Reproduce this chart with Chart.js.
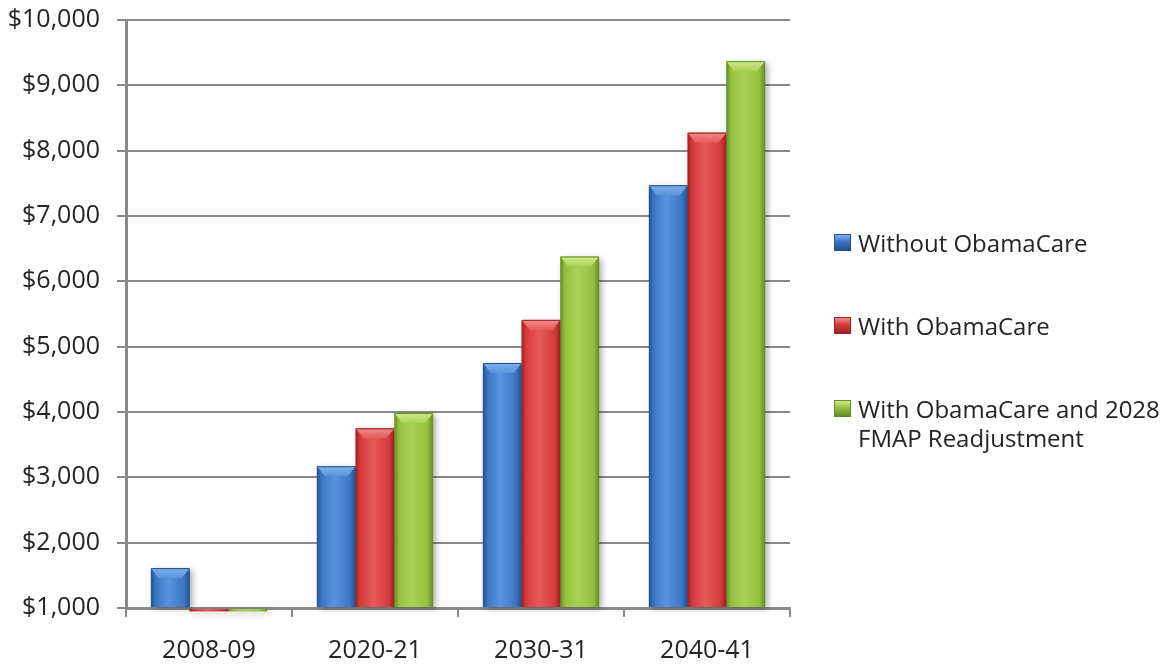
<!DOCTYPE html>
<html>
<head>
<meta charset="utf-8">
<script src="https://cdn.jsdelivr.net/npm/chart.js@4/dist/chart.umd.min.js"></script>
<style>
  html, body { margin: 0; padding: 0; background: #fff; }
  #wrap { position: relative; width: 1167px; height: 664px; }
  #legend {
    position: absolute; left: 834px; top: 0; width: 333px;
    font-family: "Open Sans", sans-serif; font-size: 24px; color: #242424;
  }
  .lg-item { position: absolute; left: 0; width: 329px; padding-left: 24px; line-height: 29px; box-sizing: border-box; }
  .lg-box {
    position: absolute; left: 0; top: 6px; width: 17px; height: 17px; box-sizing: border-box;
  }
</style>
</head>
<body>
<div id="wrap">
  <canvas id="chart" width="1167" height="664"></canvas>
  <div id="legend"></div>
</div>
<script>
  const categories = ["2008-09", "2020-21", "2030-31", "2040-41"];
  const seriesNames = ["Without ObamaCare", "With ObamaCare", "With ObamaCare and 2028 FMAP Readjustment"];
  const withoutObamaCare = [1610, 3170, 4750, 7470];
  const withObamaCare = [950, 3750, 5410, 8275];
  const withFmapReadjust = [950, 3985, 6380, 9370];
  const yTicks = [1000, 2000, 3000, 4000, 5000, 6000, 7000, 8000, 9000, 10000];

  // dark edge / mid / light centre for the cylinder shading
  const shades = [
    { dark: "#22508f", mid: "#3b76c4", light: "#5b93db", top: "#7fb0ee" },
    { dark: "#9c2223", mid: "#d63b3b", light: "#e65a5a", top: "#f28a8a" },
    { dark: "#638c26", mid: "#94c13f", light: "#a9d154", top: "#d0ea8a" }
  ];

  const FONT = "'Open Sans', sans-serif";
  const GRID = "#898989";

  // paints each bar with a horizontal gradient and a bevelled top
  const barShade = {
    id: "barShade",
    afterDatasetsDraw(chart) {
      const ctx = chart.ctx;
      chart.data.datasets.forEach((ds, i) => {
        const s = shades[i];
        chart.getDatasetMeta(i).data.forEach(bar => {
          const left = bar.x - bar.width / 2;
          const right = bar.x + bar.width / 2;
          const top = Math.min(bar.y, bar.base);
          const h = Math.abs(bar.base - bar.y);
          ctx.save();
          const g = ctx.createLinearGradient(left, 0, right, 0);
          g.addColorStop(0, s.dark);
          g.addColorStop(0.12, s.mid);
          g.addColorStop(0.45, s.light);
          g.addColorStop(0.85, s.mid);
          g.addColorStop(1, s.dark);
          ctx.shadowColor = "rgba(0,0,0,0.3)";
          ctx.shadowBlur = 6;
          ctx.shadowOffsetX = 3;
          ctx.shadowOffsetY = 2;
          ctx.fillStyle = g;
          ctx.fillRect(left, top, bar.width, h);
          ctx.restore();
          if (bar.y < bar.base && h > 14) {
            const inset = Math.min(8, bar.width / 4);
            const depth = 10;
            ctx.save();
            const tg = ctx.createLinearGradient(0, top, 0, top + depth);
            tg.addColorStop(0, s.top);
            tg.addColorStop(1, s.light);
            ctx.fillStyle = tg;
            ctx.beginPath();
            ctx.moveTo(left, top);
            ctx.lineTo(right, top);
            ctx.lineTo(right - inset, top + depth);
            ctx.lineTo(left + inset, top + depth);
            ctx.closePath();
            ctx.fill();
            ctx.strokeStyle = s.dark;
            ctx.lineWidth = 1;
            ctx.beginPath();
            ctx.moveTo(left + 0.5, top + 0.5);
            ctx.lineTo(right - 0.5, top + 0.5);
            ctx.stroke();
            ctx.restore();
          }
        });
      });
    }
  };

  const seriesData = [withoutObamaCare, withObamaCare, withFmapReadjust];

  new Chart(document.getElementById("chart"), {
    type: "bar",
    data: {
      labels: categories,
      datasets: seriesNames.map((name, i) => ({
        label: name,
        data: seriesData[i],
        base: yTicks[0],
        backgroundColor: shades[i].mid,
        borderWidth: 0,
        clip: false,
        categoryPercentage: 0.7,
        barPercentage: 1.0
      }))
    },
    options: {
      responsive: false,
      animation: false,
      layout: { padding: { top: 20, right: 377, left: 0, bottom: 0 } },
      plugins: {
        legend: { display: false },
        tooltip: { enabled: false }
      },
      scales: {
        x: {
          grid: { offset: true, drawOnChartArea: false, color: GRID, lineWidth: 2, tickLength: 9 },
          border: { color: GRID, width: 3 },
          ticks: { color: "#242424", font: { family: FONT, size: 25 }, padding: 19 },
          afterFit(scale) { scale.height = 56; }
        },
        y: {
          min: 1000,
          max: 10000,
          afterBuildTicks(scale) { scale.ticks = yTicks.map(v => ({ value: v })); },
          grid: { color: GRID, lineWidth: 2, tickLength: 9 },
          border: { color: GRID, width: 3 },
          ticks: {
            color: "#242424",
            font: { family: FONT, size: 25, lineHeight: 0.8 },
            padding: 17,
            callback: v => "$" + v.toLocaleString("en-US")
          },
          afterFit(scale) {
            scale.width = 126;
            scale.paddingTop = 0;
            scale.paddingBottom = 0;
          }
        }
      }
    },
    plugins: [barShade]
  });

  // legend, built from the series names
  const legend = document.getElementById("legend");
  const itemTops = [228, 311, 394];
  seriesNames.forEach((name, i) => {
    const item = document.createElement("div");
    item.className = "lg-item";
    item.style.top = itemTops[i] + "px";
    const box = document.createElement("span");
    box.className = "lg-box";
    box.style.background = "linear-gradient(180deg," + shades[i].top + "," + shades[i].mid + " 45%," + shades[i].dark + ")";
    box.style.border = "1px solid " + shades[i].dark;
    item.appendChild(box);
    item.appendChild(document.createTextNode(name));
    legend.appendChild(item);
  });
</script>
</body>
</html>
